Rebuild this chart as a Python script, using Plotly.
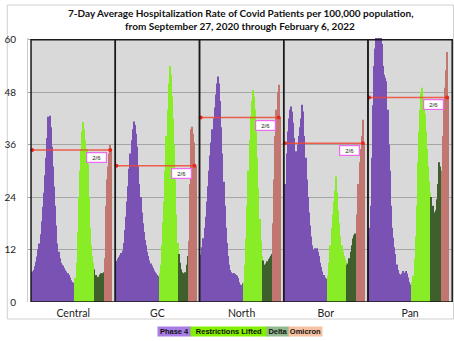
import plotly.graph_objects as go

# Weekly 7-day average hospitalization rate per 100,000, Sep 27 2020 .. Feb 6 2022 (72 weeks)
regions = ["Central", "GC", "North", "Bor", "Pan"]
week_count = 72
phase_names = ["Phase 4", "Restrictions Lifted", "Delta", "Omicron"]
phase_starts = [0, 39, 56, 65]          # first week index of each phase
y_ticks = [0, 12, 24, 36, 48, 60]
last_week_label = "2/6"
title_lines = ["7-Day Average Hospitalization Rate of Covid Patients per 100,000 population,",
               "from September 27, 2020 through February 6, 2022"]

central = [6.9, 7.0, 7.3, 8.2, 9.2, 10.4, 12.0, 13.4, 15.5, 18.5, 21.8, 25.0, 29.0, 33.0,
           37.5, 42.4, 42.6, 40.0, 35.5, 31.0, 26.4, 22.0, 17.5, 13.4, 11.5, 10.0, 9.0, 8.5,
           8.3, 7.8, 7.3, 7.0, 6.6, 6.2, 5.6, 5.0, 4.6, 4.4, 4.3,
           5.5, 9.0, 16.0, 24.0, 30.0, 35.0, 39.0, 41.2, 39.5, 37.0, 35.0, 31.5, 24.0, 17.0,
           13.0, 10.5, 9.0,
           7.5, 6.2, 5.8, 5.5, 5.8, 6.3, 6.6, 6.6, 6.8,
           10.0, 22.0, 28.0, 31.0, 34.0, 36.0, 34.8]
gc = [9.2, 9.4, 9.9, 10.3, 10.7, 11.2, 11.8, 13.5, 16.5, 19.5, 23.0, 26.5, 30.5, 34.0,
      37.0, 39.5, 41.3, 40.5, 38.5, 35.5, 31.0, 27.0, 24.0, 20.5, 18.0, 16.0, 14.2, 13.0,
      11.5, 10.5, 9.5, 8.8, 8.3, 7.8, 7.2, 6.8, 6.5, 6.2, 5.9,
      6.5, 8.5, 13.0, 18.3, 23.0, 30.0, 38.0, 44.0, 50.0, 54.0, 52.0, 47.0, 42.0, 36.0,
      28.0, 20.0, 13.5,
      11.0, 9.0, 7.5, 6.8, 6.5, 6.5, 6.8, 8.5, 10.5,
      14.0, 27.0, 39.5, 40.1, 38.5, 36.5, 31.2]
north = [10.4, 10.8, 12.5, 14.6, 17.0, 19.5, 23.0, 26.5, 30.0, 33.5, 36.5, 39.5, 42.0, 44.5,
         47.5, 50.0, 51.6, 50.0, 46.0, 40.0, 34.0, 27.5, 22.0, 17.0, 13.5, 10.5, 8.5, 7.3,
         6.8, 6.6, 6.6, 6.4, 6.2, 6.0, 5.5, 4.5, 4.0, 3.9, 4.3,
         4.5, 8.5, 14.5, 22.0, 30.0, 37.0, 42.5, 46.0, 48.5, 47.0, 44.0, 39.0, 33.0, 26.0,
         19.0, 14.0, 10.5,
         9.5, 8.5, 8.3, 8.8, 9.3, 9.8, 10.2, 10.6, 11.0,
         18.0, 28.0, 38.0, 44.0, 48.0, 49.7, 42.2]
bor = [17.2, 27.0, 34.0, 39.0, 42.0, 44.0, 44.7, 43.5, 41.0, 37.5, 34.5, 34.0, 36.0, 38.0,
       40.0, 42.0, 45.1, 43.6, 38.0, 33.0, 28.0, 24.0, 20.5, 17.5, 15.0, 13.0, 12.0, 12.3,
       12.0, 12.3, 11.5, 10.5, 9.0, 8.0, 7.0, 6.2, 5.6, 5.3, 5.0,
       6.0, 9.0, 13.0, 17.0, 20.0, 23.0, 25.5, 28.7, 25.0, 21.0, 18.0, 15.0, 13.0, 11.5,
       10.5, 9.8, 9.2,
       8.5, 8.8, 10.0, 11.5, 13.0, 14.5, 15.3, 15.7, 14.9,
       20.0, 27.0, 32.0, 35.0, 38.0, 41.7, 36.3]
pan = [15.4, 17.0, 22.0, 33.0, 45.0, 54.0, 58.0, 61.0, 63.0, 64.0, 63.0, 62.0, 59.0, 54.0,
       52.0, 51.3, 50.5, 44.0, 36.0, 30.0, 22.0, 17.0, 14.7, 12.5, 11.0, 8.6, 7.3, 6.5,
       6.3, 6.0, 6.5, 7.1, 6.7, 7.1, 6.5, 5.6, 4.6, 4.0, 3.7,
       4.5, 6.0, 10.0, 15.0, 22.0, 32.0, 39.0, 44.0, 48.0, 49.0, 46.5, 43.0, 39.0, 35.0,
       31.0, 27.5, 25.0,
       24.0, 22.0, 20.5, 19.5, 21.0, 23.5, 27.0, 32.0, 31.0,
       30.0, 38.0, 44.0, 49.0, 53.0, 57.2, 46.8]
series = [central, gc, north, bor, pan]

# ---- styling ----
bar_colors = ["#7a52b3", "#88ec26", "#3f5f2c", "#c27670"]
legend_bg = ["#a97de6", "#82f000", "#93b98e", "#f6c2a2"]
panel_fill = "#d9d9d9"
slot = 75                       # x units reserved for each region panel
W, H = 454, 341
M_L, M_R, M_T, M_B = 28, 1, 38, 39
y_max = 60.4
x_lo, x_hi = -3.2, len(regions) * slot + 0.2


def px_x(px):
    return (px - M_L) / (W - M_L - M_R)


def px_y(py):
    return (H - M_B - py) / (H - M_T - M_B)


fig = go.Figure()

phase_ends = phase_starts[1:] + [week_count]
for p, name in enumerate(phase_names):
    xs, ys = [], []
    for r, vals in enumerate(series):
        for i in range(phase_starts[p], phase_ends[p]):
            xs.append(r * slot + i)
            ys.append(vals[i])
    fig.add_trace(go.Bar(x=xs, y=ys, name=name, width=0.84,
                         marker=dict(color=bar_colors[p], line=dict(width=0)),
                         showlegend=False, hoverinfo="skip"))

shapes = []
annotations = []
for r, vals in enumerate(series):
    left, right = r * slot - 0.5, r * slot + slot - 0.5
    shapes.append(dict(type="rect", xref="x", yref="y", x0=left, x1=right, y0=0, y1=60,
                       fillcolor=panel_fill, line=dict(width=0), layer="below"))
    shapes.append(dict(type="rect", xref="x", yref="y", x0=left, x1=right, y0=0, y1=60,
                       line=dict(color="#1a1a1a", width=1.5), layer="above"))
    # level of the final week carried back across the panel
    level = vals[-1]
    x_end = r * slot + week_count - 2
    fig.add_trace(go.Scatter(x=[r * slot + 0.5, x_end], y=[level, level],
                             mode="lines+markers",
                             line=dict(color="rgba(240,72,52,0.85)", width=1.5),
                             marker=dict(color="#e8281e", size=4),
                             showlegend=False, hoverinfo="skip"))
    annotations.append(dict(x=x_end - 2.6, y=level, xref="x", yref="y",
                            xanchor="right", yanchor="top", yshift=-2,
                            text=last_week_label, showarrow=False,
                            font=dict(family="Liberation Sans", size=6, color="#222"),
                            bgcolor="white", bordercolor="#ee6aee", borderwidth=1.2,
                            borderpad=0, width=19, height=9))

# outer chart frame
shapes.append(dict(type="rect", xref="paper", yref="paper",
                   x0=px_x(7.3), x1=px_x(453.5), y0=px_y(319), y1=px_y(5),
                   line=dict(color="#d0d0d0", width=1), layer="below"))

# two-line title
for line, cy in zip(title_lines, [13, 26]):
    annotations.append(dict(x=px_x(240), y=px_y(cy), xref="paper", yref="paper",
                            xanchor="center", yanchor="middle", text=f"<b>{line}</b>",
                            showarrow=False,
                            font=dict(family="Lato", size=10, color="#111")))

# phase key beneath the axis
key_centers = [174.5, 229, 278, 305.5]
key_widths = [33, 76, 22, 33]
for name, bg, cx, w in zip(phase_names, legend_bg, key_centers, key_widths):
    annotations.append(dict(x=px_x(cx), y=px_y(331), xref="paper", yref="paper",
                            xanchor="center", yanchor="middle", text=f"<b>{name}</b>",
                            showarrow=False, bgcolor=bg, borderpad=0, width=w, height=9,
                            font=dict(family="Liberation Sans", size=7.5, color="#111")))

fig.update_layout(
    width=W, height=H,
    margin=dict(l=M_L, r=M_R, t=M_T, b=M_B),
    paper_bgcolor="white", plot_bgcolor="white",
    barmode="overlay",
    shapes=shapes, annotations=annotations,
    xaxis=dict(range=[x_lo, x_hi], showgrid=False, zeroline=False, showline=False,
               tickvals=[r * slot + (slot - 1) / 2 for r in range(len(regions))],
               ticktext=regions, ticks="", ticklabelstandoff=3,
               tickfont=dict(family="Lato", size=10.5, color="#222")),
    yaxis=dict(range=[0, y_max], tickvals=y_ticks, showgrid=True, gridcolor="#a6a6a6",
               gridwidth=1, zeroline=False, showline=True, linecolor="#cccccc",
               ticks="", ticklabelstandoff=9,
               tickfont=dict(family="Lato", size=10, color="#222")),
)

fig.write_html("out.html")
